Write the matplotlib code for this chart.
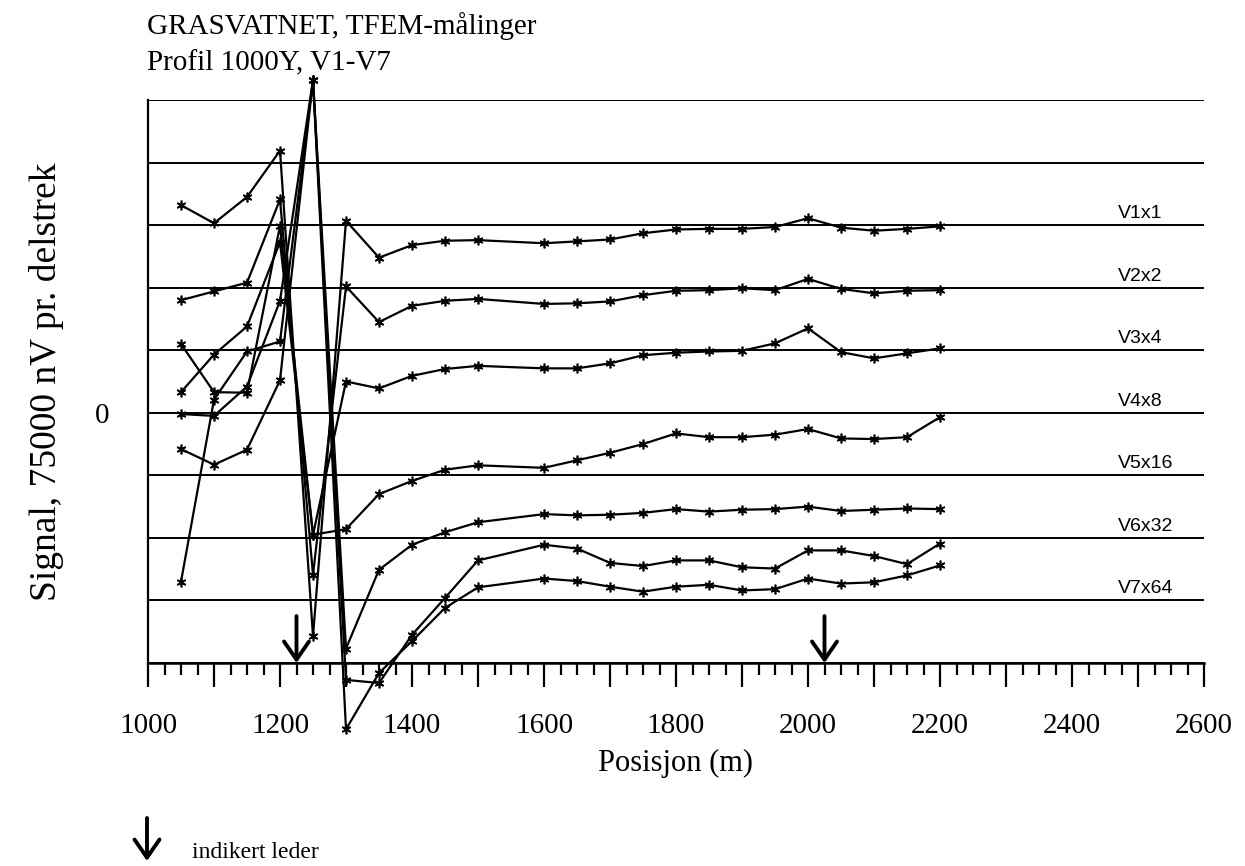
import matplotlib
matplotlib.use("Agg")
import matplotlib.pyplot as plt
from matplotlib.ticker import MultipleLocator

# ---- data ----
positions = [1050, 1100, 1150, 1200, 1250, 1300, 1350, 1400, 1450, 1500, 1600,
             1650, 1700, 1750, 1800, 1850, 1900, 1950, 2000, 2050, 2100, 2150, 2200]

v1 = [3.32, 3.03, 3.45, 4.19, -3.57, 3.07, 2.48, 2.68, 2.75, 2.76, 2.71, 2.74,
      2.77, 2.87, 2.93, 2.94, 2.94, 2.97, 3.11, 2.96, 2.91, 2.94, 2.98]
v2 = [1.80, 1.94, 2.08, 3.41, -2.59, 2.02, 1.45, 1.71, 1.79, 1.82, 1.74, 1.75,
      1.78, 1.88, 1.95, 1.96, 1.99, 1.96, 2.14, 1.98, 1.91, 1.95, 1.96]
v3 = [1.10, 0.33, 0.32, 2.99, -1.95, 0.50, 0.39, 0.59, 0.70, 0.75, 0.71, 0.71,
      0.79, 0.92, 0.96, 0.98, 0.99, 1.11, 1.35, 0.97, 0.87, 0.95, 1.03]
v4 = [0.33, 0.93, 1.38, 2.73, -1.95, -1.86, -1.30, -1.09, -0.91, -0.84, -0.88, -0.76,
      -0.64, -0.50, -0.33, -0.39, -0.39, -0.35, -0.26, -0.41, -0.42, -0.39, -0.07]
v5 = [-0.02, -0.05, 0.42, 1.79, 5.32, -3.77, -2.51, -2.11, -1.91, -1.75, -1.62, -1.64,
      -1.63, -1.60, -1.54, -1.58, -1.55, -1.54, -1.50, -1.57, -1.55, -1.53, -1.54]
v6 = [-2.70, 0.21, 0.98, 1.14, 5.32, -4.27, -4.32, -3.55, -2.96, -2.36, -2.11, -2.17,
      -2.40, -2.45, -2.36, -2.36, -2.47, -2.49, -2.20, -2.20, -2.29, -2.42, -2.09]
v7 = [-0.58, -0.83, -0.59, 0.52, 5.32, -5.06, -4.16, -3.65, -3.12, -2.79, -2.65, -2.69,
      -2.78, -2.86, -2.78, -2.75, -2.84, -2.82, -2.65, -2.73, -2.71, -2.60, -2.44]

series = [v1, v2, v3, v4, v5, v6, v7]
series_labels = ["V1x1", "V2x2", "V3x4", "V4x8", "V5x16", "V6x32", "V7x64"]
label_levels = [3, 2, 1, 0, -1, -2, -3]

leader_positions = [1225, 2025]

x_tick_labels = ["1000", "1200", "1400", "1600", "1800", "2000", "2200", "2400", "2600"]

title_text = "GRASVATNET, TFEM-målinger\nProfil 1000Y, V1-V7"
xlabel_text = "Posisjon (m)"
ylabel_text = "Signal, 75000 nV pr. delstrek"
legend_text = "indikert leder"

# ---- figure ----
serif = "Liberation Serif"
sans = "Liberation Sans"

fig = plt.figure(figsize=(12.45, 8.66), dpi=100)
ax = fig.add_axes([148 / 1245, 1 - 663 / 866, (1204 - 148) / 1245, (663 - 100) / 866])

ax.set_xlim(1000, 2600)
ax.set_ylim(-4, 5)

for vals in series:
    ax.plot(positions, vals, color="black", lw=1.6, marker=(6, 2, 0), ms=7,
            mew=1.2, clip_on=False, zorder=3)

label_x = 2470
for lab, lev in zip(series_labels, label_levels):
    ax.text(label_x, lev + 0.05, lab, fontsize=14, family=sans, va="bottom",
            ha="left", zorder=4)

# horizontal gridlines
ax.set_yticks(range(-4, 6))
ax.set_yticklabels(["0" if v == 0 else "" for v in range(-4, 6)],
                   fontsize=21, family=serif)
ax.tick_params(axis="y", length=0, pad=28)
ax.yaxis.grid(True, color="black", lw=1.4)
ax.set_axisbelow(True)

# x ticks
major_vals = list(range(1000, 2700, 100))
ax.set_xticks(major_vals)
ax.set_xticklabels([str(v) if str(v) in x_tick_labels else "" for v in major_vals],
                   fontsize=21, family=serif)
ax.xaxis.set_minor_locator(MultipleLocator(25))
ax.tick_params(axis="x", which="major", direction="out", length=17, width=1.6, pad=19)
ax.tick_params(axis="x", which="minor", direction="out", length=8.5, width=1.6)

ax.spines["right"].set_visible(False)
ax.spines["top"].set_visible(False)
ax.spines["left"].set_linewidth(1.6)
ax.spines["bottom"].set_linewidth(1.8)

ax.set_xlabel(xlabel_text, fontsize=22, family=serif, labelpad=7)
ax.set_ylabel(ylabel_text, fontsize=27, family=serif, labelpad=22)

arrow_style = "->,head_length=0.65,head_width=0.45"

# leader arrows
for lp in leader_positions:
    ax.annotate("", xy=(lp, -4.0), xytext=(lp, -3.25),
                arrowprops=dict(arrowstyle=arrow_style, mutation_scale=20,
                                lw=2.8, color="black", shrinkA=0, shrinkB=0))

fig.text(147 / 1245, 1 - 12 / 866, title_text, fontsize=21, family=serif,
         va="top", ha="left", linespacing=1.5)

# legend arrow at bottom
ax.annotate("", xy=(147 / 1245, 1 - 861 / 866), xytext=(147 / 1245, 1 - 818 / 866),
            xycoords="figure fraction", textcoords="figure fraction",
            arrowprops=dict(arrowstyle=arrow_style, mutation_scale=20,
                            lw=2.8, color="black", shrinkA=0, shrinkB=0))
fig.text(192 / 1245, 1 - 852 / 866, legend_text, fontsize=17, family=serif,
         va="center", ha="left")

fig.savefig("out.png", dpi=100)
